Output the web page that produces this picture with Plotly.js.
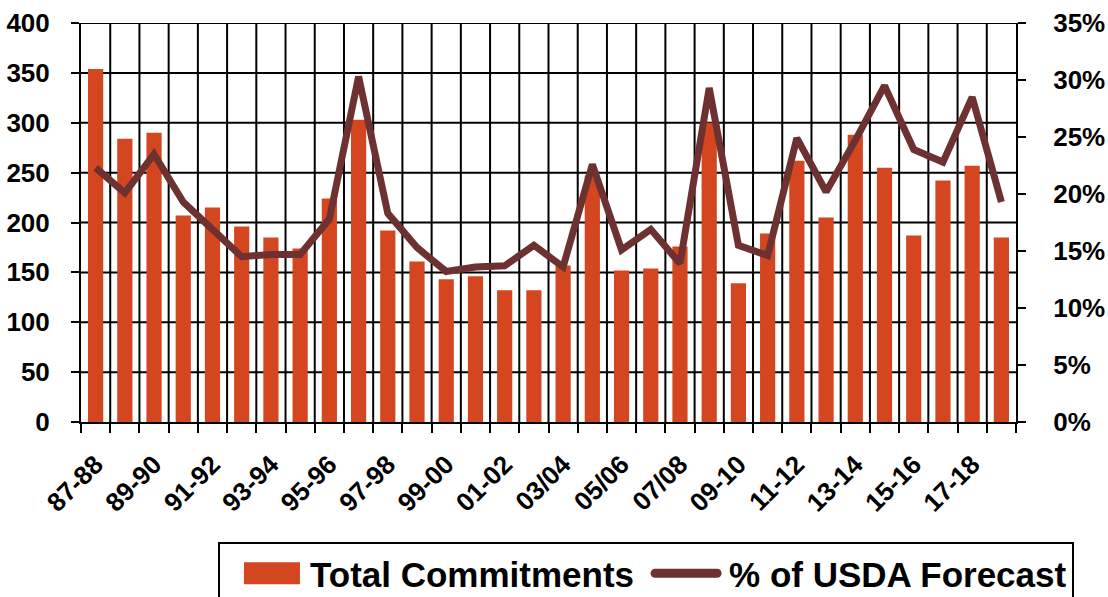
<!DOCTYPE html>
<html>
<head>
<meta charset="utf-8">
<script src="https://cdn.plot.ly/plotly-3.0.1.min.js"></script>
<style>
  html, body { margin: 0; padding: 0; background: #ffffff; }
  #chart { width: 1108px; height: 597px; }
</style>
</head>
<body>
<div id="chart"></div>
<script>
// Marketing years (one bar per year)
const categories = [
  "87-88","88-89","89-90","90-91","91-92","92-93","93-94","94-95",
  "95-96","96-97","97-98","98-99","99-00","00-01","01-02","02-03",
  "03/04","04/05","05/06","06/07","07/08","08/09","09-10","10-11",
  "11-12","12-13","13-14","14-15","15-16","16-17","17-18","18-19"
];
// Labels shown on the category axis
const tickLabels = [
  "87-88","89-90","91-92","93-94","95-96","97-98","99-00","01-02",
  "03/04","05/06","07/08","09-10","11-12","13-14","15-16","17-18"
];
// Total commitments (left axis)
const totalCommitments = [
  354, 284, 290, 207, 215, 196, 185, 174,
  224, 303, 192, 161, 143, 146, 132, 132,
  157, 247, 152, 154, 176, 300, 139, 189,
  262, 205, 288, 255, 187, 242, 257, 185
];
// % of USDA forecast (right axis)
const pctOfForecast = [
  22.3, 20.1, 23.5, 19.3, 16.9, 14.5, 14.7, 14.7,
  17.8, 30.3, 18.3, 15.3, 13.2, 13.6, 13.7, 15.5,
  13.6, 22.6, 15.1, 16.9, 13.9, 29.3, 15.5, 14.6,
  24.9, 20.2, 24.7, 29.5, 23.9, 22.8, 28.5, 19.3
];

const FONT = "Liberation Sans, Arial, Helvetica, sans-serif";
const BAR_COLOR = "#D4461F";
const LINE_COLOR = "#6E3131";
const LEFT_MAX = 400, LEFT_STEP = 50;
const N = categories.length;

// category boundaries (for the tick marks and the vertical rules)
const boundaries = [];
for (let i = 0; i <= N; i++) boundaries.push(i - 0.5);

// chart grid as a line trace under the bars
const gridX = [], gridY = [];
for (let v = LEFT_STEP; v <= LEFT_MAX; v += LEFT_STEP) {
  gridX.push(-0.5, N - 0.5, null); gridY.push(v, v, null);
}
for (let i = 1; i < N; i++) {
  gridX.push(boundaries[i], boundaries[i], null); gridY.push(0, LEFT_MAX, null);
}

const traces = [
  {
    type: "scatter",
    mode: "lines",
    name: "grid",
    x: gridX,
    y: gridY,
    xaxis: "x",
    yaxis: "y",
    line: { color: "#000000", width: 2 },
    connectgaps: false,
    cliponaxis: false,
    hoverinfo: "skip",
    showlegend: false
  },
  {
    type: "bar",
    name: "Total Commitments",
    x: categories,
    y: totalCommitments,
    xaxis: "x2",
    yaxis: "y",
    marker: { color: BAR_COLOR, line: { width: 0 } }
  },
  {
    type: "scatter",
    mode: "lines",
    name: "% of USDA Forecast",
    x: categories,
    y: pctOfForecast,
    xaxis: "x2",
    yaxis: "y2",
    line: { color: LINE_COLOR, width: 7, shape: "linear" }
  }
];

const axisFont = { family: FONT, size: 26, color: "#000000", weight: "bold" };

const layout = {
  width: 1108,
  height: 597,
  margin: { l: 81, r: 92, t: 23, b: 175, pad: 0, autoexpand: false },
  paper_bgcolor: "#ffffff",
  plot_bgcolor: "#ffffff",
  showlegend: true,
  bargap: 0.48,
  font: { family: FONT, color: "#000000" },
  xaxis: {
    type: "linear",
    range: [-0.5, N - 0.5],
    tickmode: "array",
    tickvals: boundaries,
    ticktext: boundaries.map(() => ""),
    ticks: "outside",
    ticklen: 9,
    tickwidth: 2,
    tickcolor: "#000000",
    showticklabels: false,
    showgrid: false,
    showline: true,
    linecolor: "#000000",
    linewidth: 2,
    zeroline: false,
    automargin: false,
    fixedrange: true
  },
  xaxis2: {
    type: "category",
    categoryorder: "array",
    categoryarray: categories,
    range: [-0.5, N - 0.5],
    overlaying: "x",
    anchor: "y",
    side: "bottom",
    tickmode: "array",
    tickvals: tickLabels,
    ticktext: tickLabels,
    ticks: "",
    tickangle: -45,
    ticklabelstandoff: 21,
    tickfont: { family: FONT, size: 26, color: "#000000", weight: "bold" },
    showgrid: false,
    showline: false,
    zeroline: false,
    automargin: false,
    fixedrange: true
  },
  yaxis: {
    range: [0, LEFT_MAX],
    dtick: LEFT_STEP,
    tick0: 0,
    anchor: "x",
    ticks: "outside",
    ticklen: 8,
    tickwidth: 2,
    tickcolor: "#000000",
    showgrid: false,
    showline: true,
    linecolor: "#000000",
    linewidth: 2,
    zeroline: false,
    ticklabelstandoff: 16,
    tickfont: axisFont,
    automargin: false,
    fixedrange: true
  },
  yaxis2: {
    range: [0, 35],
    dtick: 5,
    tick0: 0,
    ticksuffix: "%",
    overlaying: "y",
    side: "right",
    anchor: "x",
    ticks: "outside",
    ticklen: 8,
    tickwidth: 2,
    tickcolor: "#000000",
    showgrid: false,
    showline: true,
    linecolor: "#000000",
    linewidth: 2,
    zeroline: false,
    ticklabelstandoff: 22,
    tickfont: axisFont,
    automargin: false,
    fixedrange: true
  },
  legend: {
    orientation: "h",
    x: 0.1465,
    xanchor: "left",
    y: -0.3008,
    yanchor: "top",
    bordercolor: "#000000",
    borderwidth: 2,
    bgcolor: "#ffffff",
    itemwidth: 80,
    traceorder: "normal",
    font: { family: FONT, size: 35, color: "#000000", weight: "bold" }
  },
  annotations: [
    {
      text: "(Million Bushels)",
      xref: "paper",
      yref: "paper",
      x: 0.51,
      y: 1,
      xanchor: "center",
      yanchor: "middle",
      yshift: 36,
      showarrow: false,
      font: { family: FONT, size: 23, color: "#000000", weight: "bold" }
    }
  ]
};

Plotly.newPlot("chart", traces, layout, { displayModeBar: false, staticPlot: true }).then(function (gd) {
  // key swatches shaped like the original key
  gd.querySelectorAll(".legend .legendpoints path.legendbar, .legend .legendpoints path.legendundefined").forEach(function (p) {
    p.setAttribute("d", "M35,11H-21V-11H35Z");
  });
  gd.querySelectorAll(".legend .legendlines path").forEach(function (p) {
    p.setAttribute("d", "M16,0h62");
    p.style.strokeWidth = "9px";
    p.style.strokeLinecap = "round";
  });
});
</script>
</body>
</html>
